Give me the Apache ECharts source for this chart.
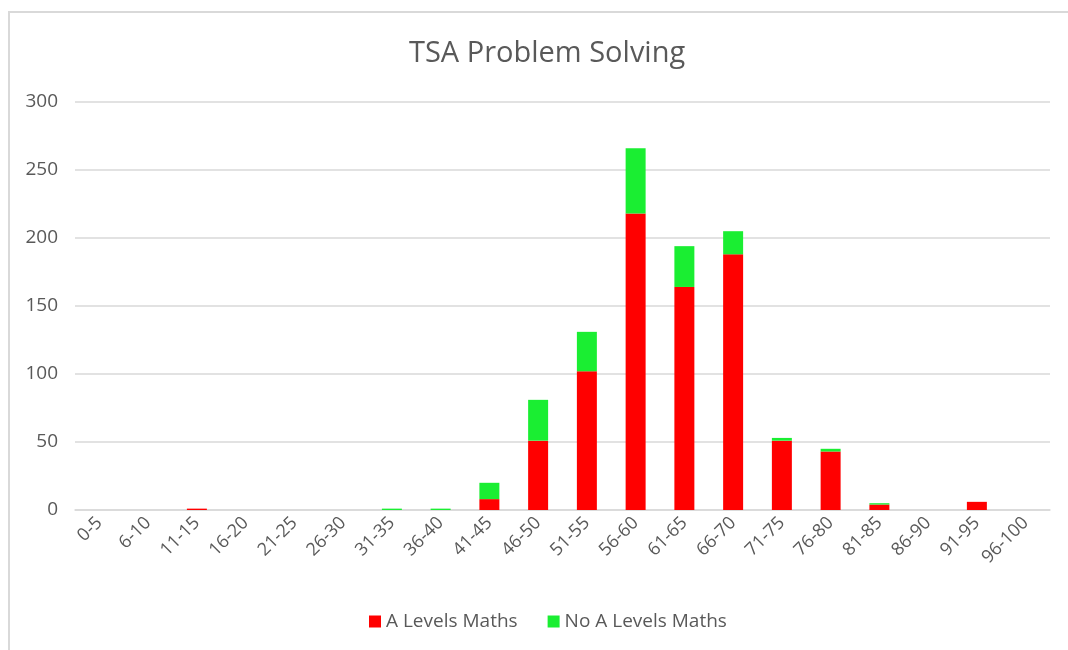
<!DOCTYPE html>
<html lang="en">
<head>
  <meta charset="UTF-8">
  <title>TSA Problem Solving</title>
  <style>
    html, body {
      margin: 0;
      padding: 0;
      width: 100%;
      height: 100%;
      background: #fff;
    }
    .main {
      width: 1068px;
      height: 650px;
    }
  </style>
</head>
<body>
<div class="main" id="main"></div>
<script src="https://cdn.jsdelivr.net/npm/echarts@6/dist/echarts.min.js"></script>
<script>
var categories = ['0-5', '6-10', '11-15', '16-20', '21-25', '26-30', '31-35', '36-40', '41-45', '46-50',
  '51-55', '56-60', '61-65', '66-70', '71-75', '76-80', '81-85', '86-90', '91-95', '96-100'];
var aLevels = [0, 0, 1, 0, 0, 0, 0, 0, 8, 51, 102, 218, 164, 188, 51, 43, 4, 0, 6, 0];
var noALevels = [0, 0, 0, 0, 0, 0, 1, 1, 12, 30, 29, 48, 30, 17, 2, 2, 1, 0, 0, 0];
var yTicks = [0, 50, 100, 150, 200, 250, 300];

var font = 'Open Sans';
var textColor = '#595959';

var chart = echarts.init(document.getElementById('main'));

chart.setOption({
  animation: false,
  textStyle: { fontFamily: font, color: textColor },
  title: {
    text: 'TSA Problem Solving',
    left: 404,
    top: 34,
    textStyle: { fontFamily: font, fontSize: 29, fontWeight: 'normal', color: textColor }
  },
  legend: {
    bottom: 14,
    left: 364,
    itemWidth: 12,
    itemHeight: 12,
    itemGap: 30,
    icon: 'rect',
    textStyle: { fontFamily: font, fontSize: 19, color: textColor },
    data: ['A Levels Maths', 'No A Levels Maths']
  },
  graphic: [{
    type: 'polyline',
    shape: { points: [[9, 660], [9, 12], [1080, 12]] },
    style: { stroke: '#d9d9d9', lineWidth: 2, fill: null }
  }],
  grid: { left: 75, right: 18, top: 102, bottom: 140 },
  xAxis: {
    type: 'category',
    data: categories,
    axisLine: { lineStyle: { color: '#d9d9d9', width: 1.5 } },
    axisTick: { show: false },
    axisLabel: {
      rotate: 45,
      interval: 0,
      margin: 10,
      fontFamily: font,
      fontSize: 18,
      color: textColor
    }
  },
  yAxis: {
    type: 'value',
    min: yTicks[0],
    max: yTicks[yTicks.length - 1],
    interval: 50,
    axisLine: { show: false },
    axisTick: { show: false },
    splitLine: { lineStyle: { color: '#d9d9d9', width: 1.5 } },
    axisLabel: {
      margin: 17,
      fontFamily: font,
      fontSize: 19,
      color: textColor
    }
  },
  series: [{
    name: 'A Levels Maths',
    type: 'bar',
    stack: 'total',
    barWidth: '41%',
    itemStyle: { color: '#ff0000' },
    data: aLevels
  }, {
    name: 'No A Levels Maths',
    type: 'bar',
    stack: 'total',
    barWidth: '41%',
    itemStyle: { color: '#1aee32' },
    data: noALevels
  }]
});
</script>
</body>
</html>
